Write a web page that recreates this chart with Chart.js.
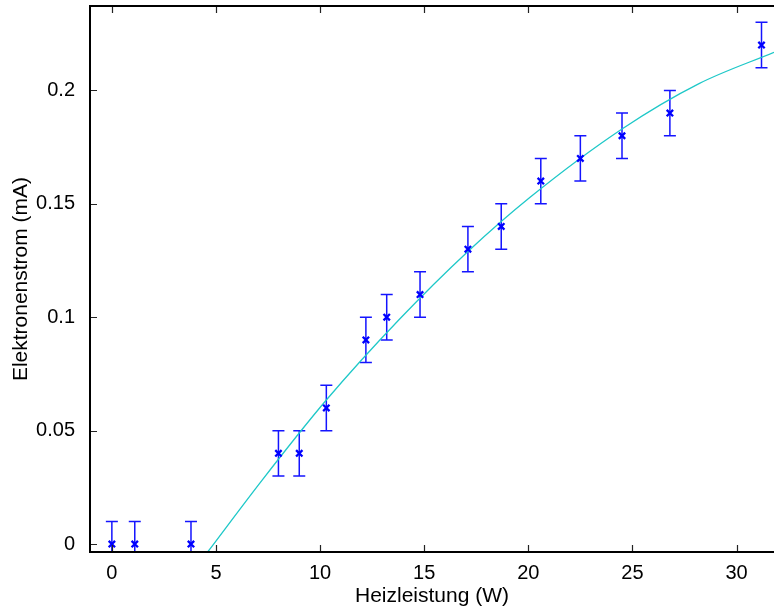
<!DOCTYPE html>
<html lang="de">
<head>
  <meta charset="UTF-8" />
  <title>Elektronenstrom vs. Heizleistung</title>
  <script src="https://cdn.jsdelivr.net/npm/chart.js"></script>
  <style>
    html, body { margin: 0; padding: 0; background: #fff; overflow: hidden; }
    #chart { display: block; }
  </style>
</head>
<body>
  <canvas id="chart" width="774" height="610"></canvas>

  <script>
    // measured points (W, mA) with error +-0.01 mA
    const power = [0, 1.1, 3.8, 8.0, 9.0, 10.3, 12.2, 13.2, 14.8, 17.1, 18.7, 20.6, 22.5, 24.5, 26.8, 31.2];
    const current = [0, 0, 0, 0.04, 0.04, 0.06, 0.09, 0.10, 0.11, 0.13, 0.14, 0.16, 0.17, 0.18, 0.19, 0.22];
    const currentErr = [0.01, 0.01, 0.01, 0.01, 0.01, 0.01, 0.01, 0.01, 0.01, 0.01, 0.01, 0.01, 0.01, 0.01, 0.01, 0.01];

    // fit curve
    const fitX = [4.6, 7.2, 10.3, 13.8, 17.1, 20.1, 24.5, 28.2, 31.8];
    const fitY = [-0.0035, 0.028, 0.0635, 0.099, 0.129, 0.153, 0.183, 0.203, 0.2168];

    const xTicks = [0, 5, 10, 15, 20, 25, 30];
    const yTicks = [0, 0.05, 0.1, 0.15, 0.2];

    const FONT = "'Liberation Sans', Arial, Helvetica, sans-serif";

    // error bars, drawn under the markers
    const errorBars = {
      id: "errorBars",
      beforeDatasetsDraw(chart) {
        const { ctx, chartArea, scales: { x, y } } = chart;
        ctx.save();
        ctx.beginPath();
        ctx.rect(chartArea.left, chartArea.top, chartArea.right - chartArea.left, chartArea.bottom - chartArea.top);
        ctx.clip();
        ctx.strokeStyle = "rgb(20,20,255)";
        ctx.lineWidth = 1.5;
        power.forEach((p, i) => {
          const px = x.getPixelForValue(p);
          const top = y.getPixelForValue(current[i] + currentErr[i]);
          const bot = y.getPixelForValue(current[i] - currentErr[i]);
          ctx.beginPath();
          ctx.moveTo(px, top); ctx.lineTo(px, bot);
          ctx.moveTo(px - 6, top); ctx.lineTo(px + 6, top);
          ctx.moveTo(px - 6, bot); ctx.lineTo(px + 6, bot);
          ctx.stroke();
        });
        ctx.restore();
      }
    };

    // matlab style box with inward ticks
    const axesBox = {
      id: "axesBox",
      afterDraw(chart) {
        const { ctx, chartArea: a, scales: { x, y } } = chart;
        ctx.save();
        ctx.strokeStyle = "#222";
        ctx.lineWidth = 1.2;
        ctx.beginPath();
        xTicks.forEach(v => {
          const px = Math.round(x.getPixelForValue(v)) + 0.5;
          ctx.moveTo(px, a.bottom); ctx.lineTo(px, a.bottom - 7);
          ctx.moveTo(px, a.top); ctx.lineTo(px, a.top + 7);
        });
        yTicks.forEach(v => {
          const py = Math.round(y.getPixelForValue(v)) + 0.5;
          ctx.moveTo(a.left, py); ctx.lineTo(a.left + 7, py);
        });
        ctx.stroke();
        ctx.strokeStyle = "#000";
        ctx.lineWidth = 2;
        ctx.beginPath();
        ctx.moveTo(a.right + 2, a.top); ctx.lineTo(a.left, a.top);
        ctx.lineTo(a.left, a.bottom); ctx.lineTo(a.right + 2, a.bottom);
        ctx.stroke();
        ctx.restore();
      }
    };

    new Chart(document.getElementById("chart"), {
      type: "scatter",
      data: {
        datasets: [
          {
            label: "Messwerte",
            data: power.map((p, i) => ({ x: p, y: current[i] })),
            pointStyle: "crossRot",
            pointRadius: 4.5,
            borderColor: "rgb(0,0,255)",
            borderWidth: 2.3,
            showLine: false
          },
          {
            label: "Fit",
            type: "line",
            data: fitX.map((v, i) => ({ x: v, y: fitY[i] })),
            borderColor: "rgb(30,200,200)",
            borderWidth: 1.3,
            pointRadius: 0,
            cubicInterpolationMode: "monotone",
            fill: false
          }
        ]
      },
      options: {
        responsive: false,
        animation: false,
        devicePixelRatio: 1,
        layout: { autoPadding: false, padding: { top: 6, left: 0, right: 0, bottom: 0 } },
        plugins: { legend: { display: false }, tooltip: { enabled: false } },
        scales: {
          x: {
            type: "linear",
            min: -1.05,
            max: 31.8,
            grid: { display: false },
            border: { display: false },
            ticks: {
              stepSize: 5,
              includeBounds: false,
              padding: 1,
              maxRotation: 0,
              color: "#000",
              font: { family: FONT, size: 20 }
            },
            title: {
              display: true,
              text: "Heizleistung (W)",
              color: "#000",
              font: { family: FONT, size: 21 },
              padding: { top: 0, bottom: 1 }
            },
            afterFit(s) { s.height = 58; s.paddingLeft = 0; s.paddingRight = 0; }
          },
          y: {
            min: -0.0035,
            max: 0.2372,
            grid: { display: false },
            border: { display: false },
            ticks: {
              stepSize: 0.05,
              includeBounds: false,
              padding: 7,
              color: "#000",
              font: { family: FONT, size: 20 },
              callback: v => String(+v.toFixed(2))
            },
            title: {
              display: true,
              text: "Elektronenstrom (mA)",
              color: "#000",
              font: { family: FONT, size: 21 },
              padding: { top: 9, bottom: 0 }
            },
            afterFit(s) { s.width = 90; s.paddingTop = 0; s.paddingBottom = 0; }
          }
        }
      },
      plugins: [errorBars, axesBox]
    });
  </script>
</body>
</html>
